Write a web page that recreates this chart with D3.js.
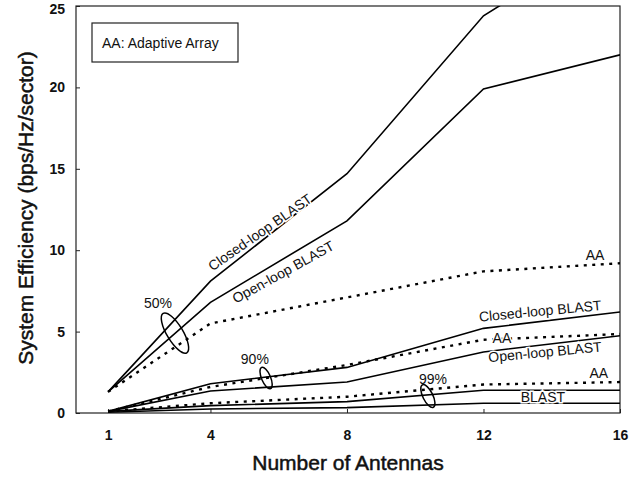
<!DOCTYPE html>
<html>
<head>
<meta charset="utf-8">
<script src="https://cdn.jsdelivr.net/npm/d3@7"></script>
<style>
  body { margin: 0; background: #fff; }
  text { font-family: "Liberation Sans", Arial, Helvetica, sans-serif; fill: #111; }
</style>
</head>
<body>
<svg id="chart" width="635" height="478"></svg>
<script>
// ---- data ----
const antennas = [1, 4, 8, 12, 16];

// 50% outage
const closedLoop50 = [1.3, 8.1, 14.7, 24.4, 29.6];
const openLoop50   = [1.3, 6.8, 11.8, 19.9, 22.0];
const adaptive50   = [1.3, 5.5, 7.1, 8.7, 9.2];
// 90% outage
const closedLoop90 = [0.1, 1.8, 2.8, 5.2, 6.2];
const adaptive90   = [0.1, 1.6, 2.95, 4.5, 4.85];
const openLoop90   = [0.1, 1.35, 1.9, 3.75, 4.75];
// 99% outage
const adaptive99   = [0.1, 0.6, 1.0, 1.75, 1.9];
const closedLoop99 = [0.1, 0.45, 0.7, 1.4, 1.4];
const openLoop99   = [0.05, 0.25, 0.33, 0.6, 0.6];

const xTicks = [1, 4, 8, 12, 16];
const yTicks = [0, 5, 10, 15, 20, 25];

// curve list: solid = BLAST, dotted = adaptive array
const curves = [
  {v: closedLoop50, dotted: false},
  {v: openLoop50,   dotted: false},
  {v: adaptive50,   dotted: true},
  {v: closedLoop90, dotted: false},
  {v: adaptive90,   dotted: true},
  {v: openLoop90,   dotted: false},
  {v: adaptive99,   dotted: true},
  {v: closedLoop99, dotted: false},
  {v: openLoop99,   dotted: false}
];

// annotations in data units
const labels = [
  {t: "Closed-loop BLAST", x: 5.45, y: 11.1, a: -35},
  {t: "Open-loop BLAST",   x: 6.13, y: 8.66, a: -29},
  {t: "AA",                x: 15.27, y: 9.7, a: 0},
  {t: "Closed-loop BLAST", x: 13.66, y: 6.27, a: -5.5},
  {t: "AA",                x: 12.54, y: 4.6, a: 0},
  {t: "Open-loop BLAST",   x: 13.8, y: 3.75, a: -5.5},
  {t: "AA",                x: 15.38, y: 2.46, a: 0},
  {t: "BLAST",             x: 13.74, y: 0.98, a: 0}
];
const pctLabels = [
  {t: "50%", x: 2.46, y: 6.76},
  {t: "90%", x: 5.3,  y: 3.32},
  {t: "99%", x: 10.52, y: 2.09}
];
const rings = [
  {x: 2.96, y: 4.91, rx: 8, ry: 23, rot: -31},
  {x: 5.63, y: 2.15, rx: 4.5, ry: 11.5, rot: -23},
  {x: 10.37, y: 1.04, rx: 5, ry: 12.5, rot: -26}
];

//-----------------------------------------------------------------

const box = {left: 76, right: 620, top: 6, bottom: 413};
const svg = d3.select("#chart");

const x = d3.scaleLinear().domain([0.06, 16]).range([box.left, box.right]);
const y = d3.scaleLinear().domain([0, 25]).range([box.bottom, box.top]);

svg.append("defs").append("clipPath").attr("id", "plotclip")
  .append("rect")
  .attr("x", box.left).attr("y", box.top)
  .attr("width", box.right - box.left).attr("height", box.bottom - box.top);

// axes (inward ticks)
const xAxis = d3.axisBottom(x).tickValues(xTicks).tickSize(-4).tickPadding(17).tickFormat(d3.format("d"));
const yAxis = d3.axisLeft(y).tickValues(yTicks).tickSize(-4).tickPadding(11);

const gx = svg.append("g").attr("transform", "translate(0," + box.bottom + ")").call(xAxis);
const gy = svg.append("g").attr("transform", "translate(" + box.left + ",0)").call(yAxis);
[gx, gy].forEach(g => {
  g.select(".domain").remove();
  g.selectAll("line").attr("stroke", "#222").attr("stroke-width", 1);
  g.selectAll("text").style("font-size", "14px").style("font-weight", "bold")
    .style("font-family", "'Liberation Sans', Arial, sans-serif").attr("fill", "#111");
});
// keep the top "25" inside the page
gy.selectAll("text").filter(d => d === 25).attr("dy", "0.5em");

// frame
svg.append("rect")
  .attr("x", box.left).attr("y", box.top)
  .attr("width", box.right - box.left).attr("height", box.bottom - box.top)
  .attr("fill", "none").attr("stroke", "#222").attr("stroke-width", 1.2);

// curves
const line = d3.line().x((d, i) => x(antennas[i])).y(d => y(d));
svg.append("g").attr("clip-path", "url(#plotclip)")
  .selectAll("path")
  .data(curves)
  .enter()
  .append("path")
  .attr("d", c => line(c.v))
  .attr("fill", "none")
  .attr("stroke", "#000")
  .attr("stroke-width", c => c.dotted ? 2.4 : 1.6)
  .attr("stroke-dasharray", c => c.dotted ? "3,5.5" : null);

// curve labels, with a white halo that breaks the dotted lines
svg.append("g").selectAll("text")
  .data(labels)
  .enter()
  .append("text")
  .attr("transform", d => "translate(" + x(d.x) + "," + y(d.y) + ") rotate(" + d.a + ")")
  .attr("text-anchor", "middle")
  .attr("dy", "0.35em")
  .style("font-size", "14px")
  .attr("stroke", "#fff").attr("stroke-width", 3).attr("paint-order", "stroke")
  .text(d => d.t);

svg.append("g").selectAll("text")
  .data(pctLabels)
  .enter()
  .append("text")
  .attr("x", d => x(d.x)).attr("y", d => y(d.y))
  .attr("text-anchor", "middle").attr("dy", "0.35em")
  .style("font-size", "14px")
  .text(d => d.t);

svg.append("g").selectAll("ellipse")
  .data(rings)
  .enter()
  .append("ellipse")
  .attr("transform", d => "translate(" + x(d.x) + "," + y(d.y) + ") rotate(" + d.rot + ")")
  .attr("rx", d => d.rx).attr("ry", d => d.ry)
  .attr("fill", "none").attr("stroke", "#000").attr("stroke-width", 1.5);

// legend note
svg.append("rect").attr("x", 92).attr("y", 23).attr("width", 146).attr("height", 39)
  .attr("fill", "#fff").attr("stroke", "#222").attr("stroke-width", 1.2);
svg.append("text").attr("x", 102).attr("y", 47.5)
  .style("font-size", "14px").text("AA: Adaptive Array");

// axis titles (slightly heavier, like the scanned original)
svg.append("text")
  .attr("x", (box.left + box.right) / 2).attr("y", 470)
  .attr("text-anchor", "middle").style("font-size", "21px")
  .attr("stroke", "#111").attr("stroke-width", 0.5)
  .text("Number of Antennas");

svg.append("text")
  .attr("transform", "translate(33,208) rotate(-90)")
  .attr("text-anchor", "middle").style("font-size", "21px")
  .attr("stroke", "#111").attr("stroke-width", 0.5)
  .text("System Efficiency (bps/Hz/sector)");
</script>
</body>
</html>
